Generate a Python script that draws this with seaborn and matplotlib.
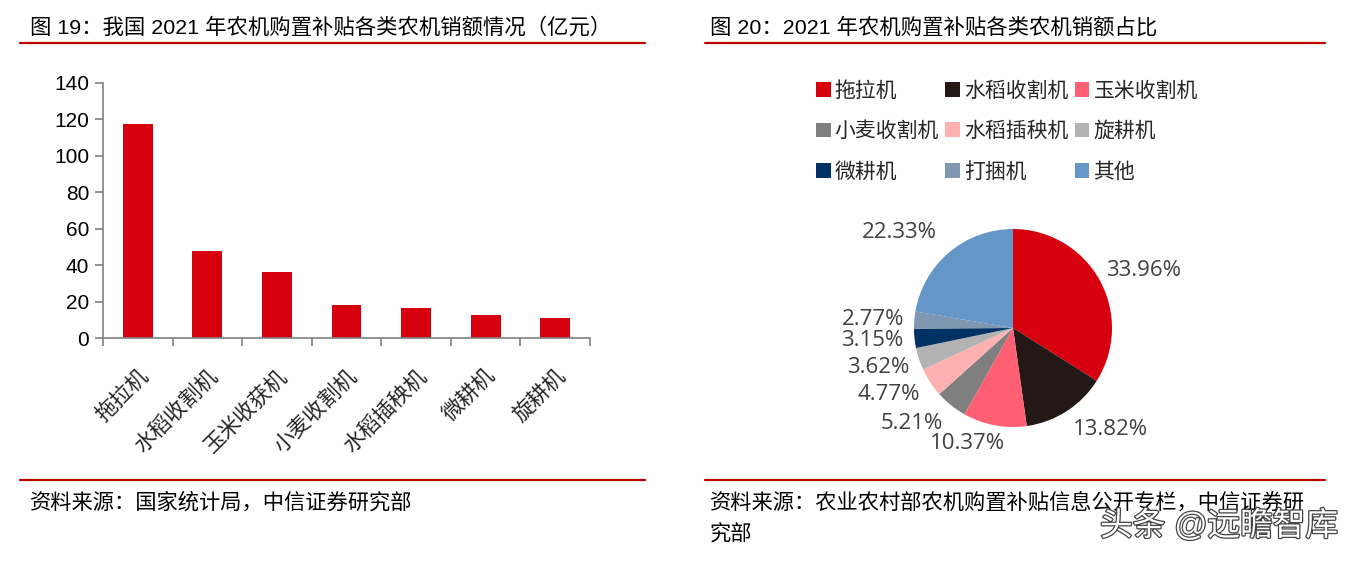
import matplotlib
matplotlib.use("Agg")
import matplotlib.pyplot as plt
import matplotlib.patheffects as pe
from matplotlib.patches import Patch
import seaborn as sns
import pandas as pd
import numpy as np

# ---------------- data ----------------
bar_categories = ["拖拉机", "水稻收割机", "玉米收获机", "小麦收割机", "水稻插秧机", "微耕机", "旋耕机"]
bar_values = [117.5, 47.8, 36.0, 18.0, 16.5, 12.5, 11.0]
y_ticks = [0, 20, 40, 60, 80, 100, 120, 140]

pie_labels = ["拖拉机", "水稻收割机", "玉米收割机", "小麦收割机", "水稻插秧机",
              "旋耕机", "微耕机", "打捆机", "其他"]
pie_values = [33.96, 13.82, 10.37, 5.21, 4.77, 3.62, 3.15, 2.77, 22.33]
pie_colors = ["#D7000F", "#231815", "#FF5F73", "#7F7F7F", "#FFB1B1",
              "#B3B3B3", "#003263", "#8097B1", "#6497C8"]

# label placement (layout only): angular nudge (deg) and radial distance
label_nudge = [-5, 11, -11, -8, -5, -2, -1, 1, 10]
label_dist = [1.44, 1.42, 1.25, 1.41, 1.42, 1.42, 1.43, 1.42, 1.50]

title_left = "图 19：我国 2021 年农机购置补贴各类农机销额情况（亿元）"
title_right = "图 20：2021 年农机购置补贴各类农机销额占比"
source_left = "资料来源：国家统计局，中信证券研究部"
source_right_1 = "资料来源：农业农村部农机购置补贴信息公开专栏，中信证券研"
source_right_2 = "究部"
watermark = "头条 @远瞻智库"

# ---------------- style ----------------
sns.set_theme(style="white")
plt.rcParams['font.family'] = ['Liberation Sans', 'Noto Sans CJK SC', 'DejaVu Sans']
plt.rcParams['axes.unicode_minus'] = False

W, H = 1358, 562
fig = plt.figure(figsize=(W / 100, H / 100), dpi=100)
fig.patch.set_facecolor("white")

def fx(px):
    return px / W

def fy(py):
    return 1 - py / H

CJK = ['Liberation Sans', 'Noto Sans CJK SC']
RED = "#C00000"

# titles & rules
fig.text(fx(30), fy(27), title_left, fontsize=15.4, family=CJK, va="center", ha="left", color="black")
fig.text(fx(710), fy(27), title_right, fontsize=15.4, family=CJK, va="center", ha="left", color="black")
for x0, x1 in [(20, 645), (705, 1325)]:
    fig.add_artist(plt.Line2D([fx(x0), fx(x1)], [fy(43), fy(43)], color=RED, lw=1.6))
    fig.add_artist(plt.Line2D([fx(x0), fx(x1)], [fy(480), fy(480)], color=RED, lw=1.6))

fig.text(fx(30), fy(502), source_left, fontsize=15.3, family=CJK, va="center", ha="left", color="black")
fig.text(fx(710), fy(502), source_right_1, fontsize=15.3, family=CJK, va="center", ha="left", color="black")
fig.text(fx(710), fy(535), source_right_2, fontsize=15.3, family=CJK, va="center", ha="left", color="black")

# ---------------- bar chart ----------------
ax1 = fig.add_axes([fx(103), fy(338), fx(590) - fx(103), fy(83) - fy(338)])
df = pd.DataFrame({"cat": bar_categories, "val": bar_values})
sns.barplot(data=df, x="cat", y="val", color="#D7000F", width=0.43, ax=ax1,
            saturation=1, edgecolor="none")
ax1.set_xlim(-0.5, len(bar_categories) - 0.5)
ax1.set_ylim(0, 140)
ax1.set_yticks(y_ticks)
ax1.set_xlabel("")
ax1.set_ylabel("")
for s in ["top", "right"]:
    ax1.spines[s].set_visible(False)
for s in ["left", "bottom"]:
    ax1.spines[s].set_color("#808080")
    ax1.spines[s].set_linewidth(1.2)
ax1.tick_params(axis="y", direction="out", length=6, width=1.2, color="#808080",
                labelsize=15, labelcolor="black", left=True, pad=4)
ax1.tick_params(axis="x", which="major", length=0, pad=20)
ax1.set_xticks(np.arange(-0.5, len(bar_categories), 1.0), minor=True)
ax1.tick_params(axis="x", which="minor", direction="out", length=6, width=1.2,
                color="#808080", bottom=True)
for lab in ax1.get_xticklabels():
    lab.set_rotation(45)
    lab.set_ha("right")
    lab.set_rotation_mode("anchor")
    lab.set_fontsize(15.5)
    lab.set_family(CJK)
ax1.grid(False)

# ---------------- pie chart ----------------
cx, cy, r = 1013, 328, 99
lim = 1.6
ax2 = fig.add_axes([fx(cx - lim * r), fy(cy + lim * r), 2 * lim * r / W, 2 * lim * r / H])
wedges, texts, autotexts = ax2.pie(
    pie_values, colors=pie_colors, startangle=90, counterclock=False,
    autopct=lambda p: f"{p:.2f}%", pctdistance=1.42, radius=1,
    textprops=dict(fontsize=16, color="#404040", family=["Open Sans"]),
    wedgeprops=dict(linewidth=0))
# place each percentage label like the reference's best-fit placement
for w, t, nd, d in zip(wedges, autotexts, label_nudge, label_dist):
    ang = np.deg2rad((w.theta1 + w.theta2) / 2 + nd)
    t.set_position((d * np.cos(ang), d * np.sin(ang)))
ax2.set_xlim(-lim, lim)
ax2.set_ylim(-lim, lim)
ax2.set_aspect("equal")
ax2.axis("off")

# legend filled row by row (matplotlib fills column by column)
ncol = 3
nrow = int(np.ceil(len(pie_labels) / ncol))
order = [rr * ncol + cc for cc in range(ncol) for rr in range(nrow)]
handles = [Patch(facecolor=pie_colors[i], edgecolor="none") for i in order]
labels = [pie_labels[i] for i in order]
leg = fig.legend(handles, labels, ncol=ncol, loc="upper left",
                 bbox_to_anchor=(fx(816), fy(81)), frameon=False,
                 prop=dict(family=CJK, size=15), handlelength=0.7, handleheight=0.7,
                 handletextpad=0.2, columnspacing=0.3, labelspacing=1.0,
                 borderaxespad=0, borderpad=0)

# watermark
fig.text(fx(1100), fy(526), watermark, fontsize=23.5, family=CJK, va="center", ha="left",
         color="white", path_effects=[pe.withStroke(linewidth=1.8, foreground="#444444")])

fig.savefig("out.png", dpi=100, facecolor="white")
